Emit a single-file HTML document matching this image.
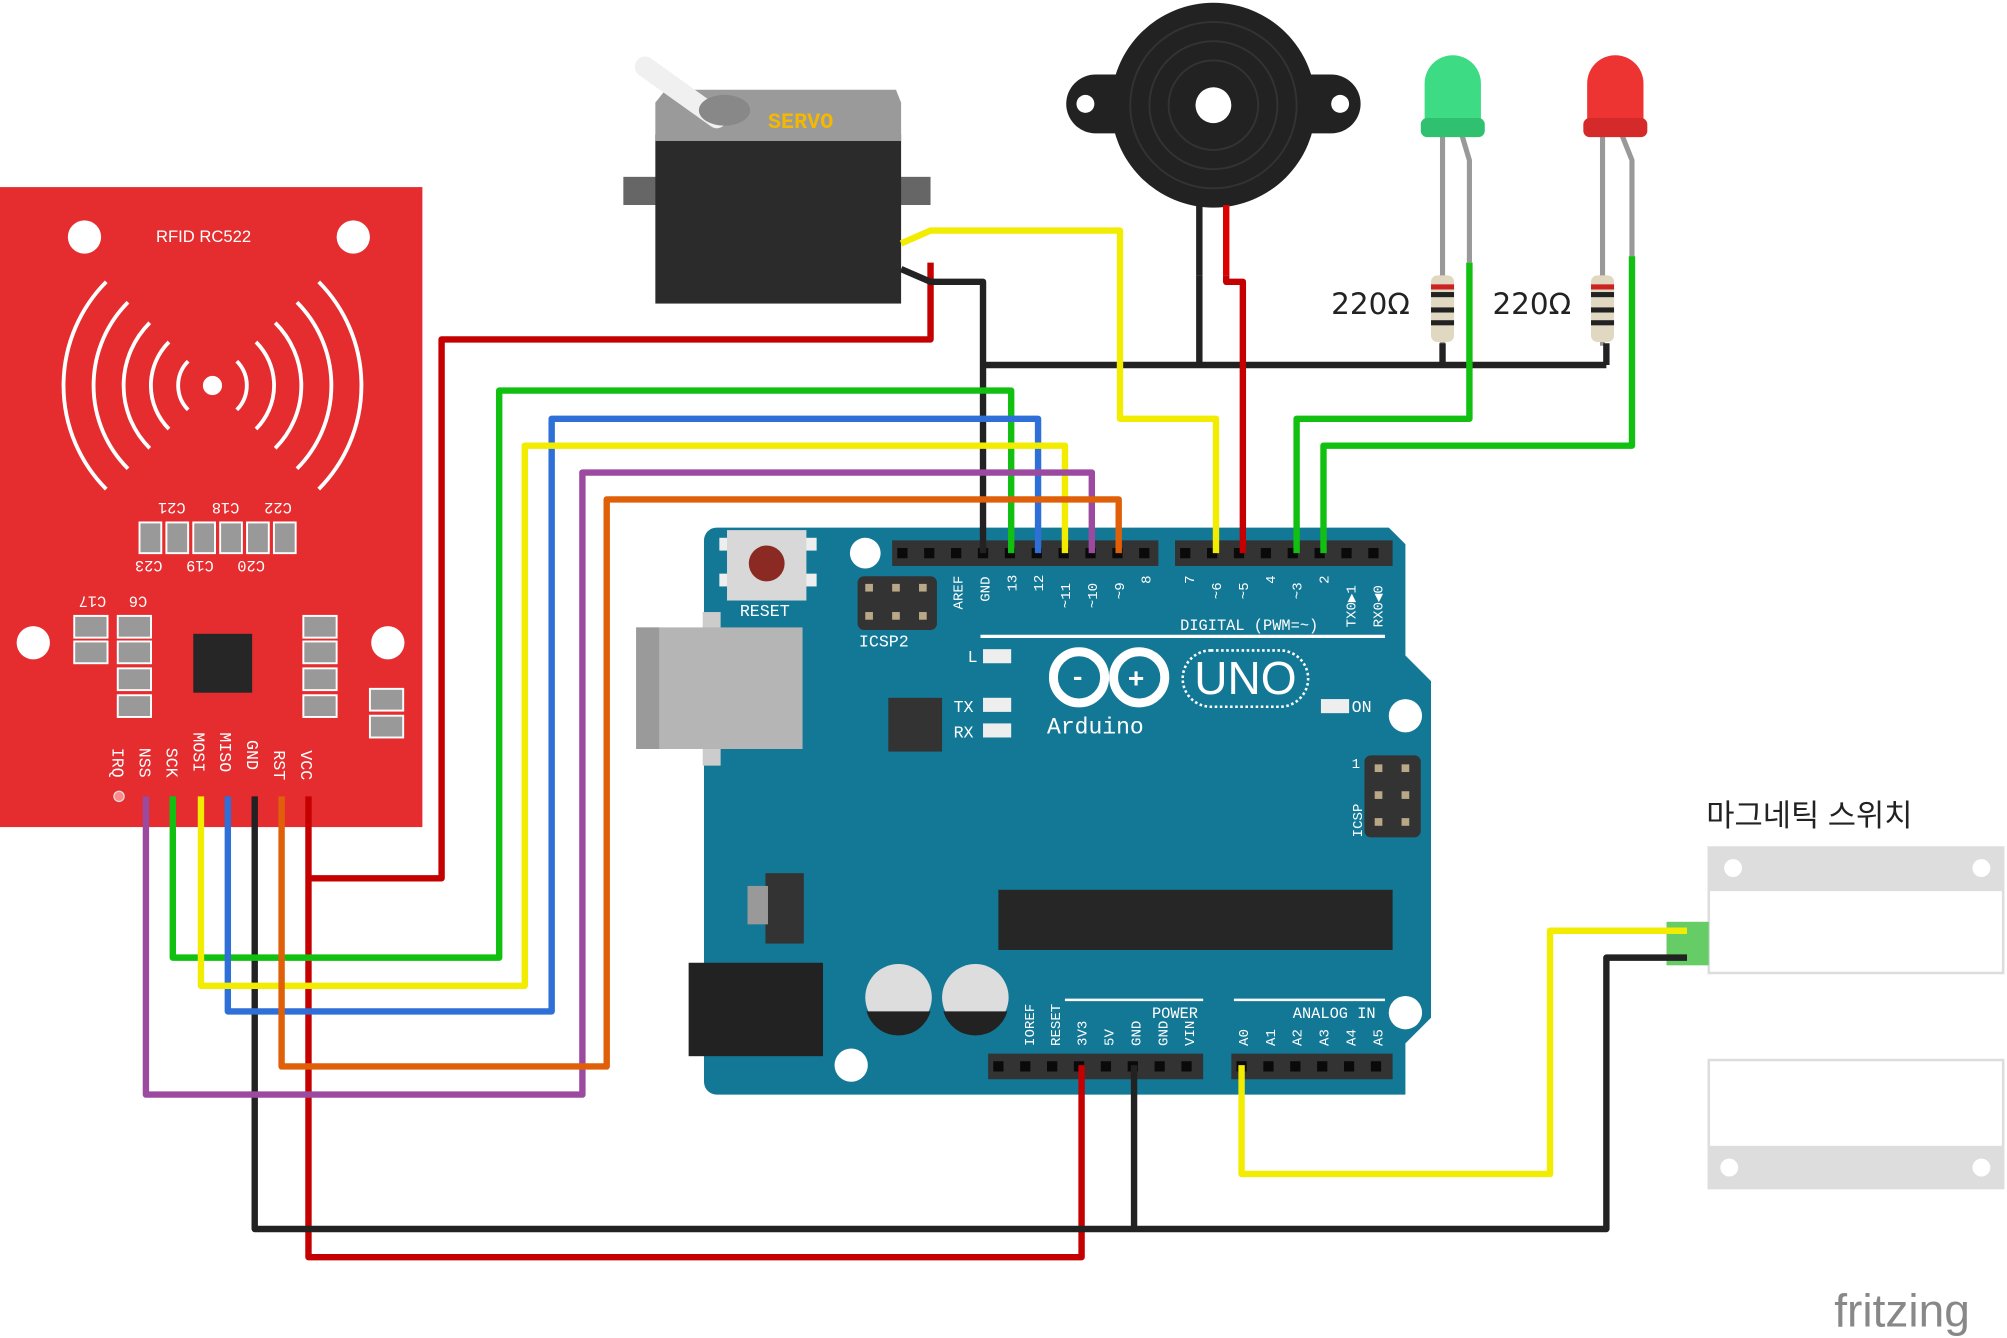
<!DOCTYPE html>
<html><head><meta charset="utf-8"><style>
html,body{margin:0;padding:0;background:#fff;}
svg{display:block}
text{font-family:"Liberation Mono",monospace;}
</style></head><body>
<svg width="2007" height="1338" viewBox="0 0 1568 1045" xmlns="http://www.w3.org/2000/svg">
<rect width="1568" height="1045" fill="#fff"/>
<!-- RFID -->
<rect x="0" y="146" width="330" height="500" fill="#e52d30"/>
<circle cx="66" cy="185" r="13" fill="#fff"/><circle cx="276" cy="185" r="13" fill="#fff"/>
<circle cx="26" cy="502" r="13" fill="#fff"/><circle cx="303" cy="502" r="13" fill="#fff"/>
<text x="159" y="189" font-size="13" fill="#fff" text-anchor="middle" style="font-family:'Liberation Sans'">RFID RC522</text>
<g fill="none" stroke="#fff" stroke-width="3">
<circle cx="166" cy="301" r="6" fill="#fff"/>
<path d="M147 282 A27 27 0 0 0 147 320 M185 282 A27 27 0 0 1 185 320"/>
<path d="M132 267 A48 48 0 0 0 132 335 M200 267 A48 48 0 0 1 200 335"/>
<path d="M117 252 A69 69 0 0 0 117 350 M215 252 A69 69 0 0 1 215 350"/>
<path d="M100 236 A92 92 0 0 0 100 366 M232 236 A92 92 0 0 1 232 366"/>
<path d="M83 220 A115 115 0 0 0 83 382 M249 220 A115 115 0 0 1 249 382"/>
</g>
<g fill="#999" stroke="#fff" stroke-width="1.5">
<rect x="109" y="408" width="17" height="24"/><rect x="130" y="408" width="17" height="24"/><rect x="151" y="408" width="17" height="24"/><rect x="172" y="408" width="17" height="24"/><rect x="193" y="408" width="17" height="24"/><rect x="214" y="408" width="17" height="24"/>
<rect x="58" y="481" width="26" height="17"/><rect x="58" y="501" width="26" height="17"/>
<rect x="92" y="481" width="26" height="17"/><rect x="92" y="501" width="26" height="17"/><rect x="92" y="522" width="26" height="17"/><rect x="92" y="543" width="26" height="17"/>
<rect x="237" y="481" width="26" height="17"/><rect x="237" y="501" width="26" height="17"/><rect x="237" y="522" width="26" height="17"/><rect x="237" y="543" width="26" height="17"/>
<rect x="289" y="538" width="26" height="17"/><rect x="289" y="559" width="26" height="17"/>
</g>
<rect x="151" y="495" width="46" height="46" fill="#262626"/>
<g fill="#fff" font-size="12" style="font-family:'Liberation Sans'">
<text x="125" y="403" transform="rotate(180 135 398)">C21</text>
<text x="167" y="403" transform="rotate(180 177 398)">C18</text>
<text x="208" y="403" transform="rotate(180 218 398)">C22</text>
<text x="107" y="446" transform="rotate(180 117 442)">C23</text>
<text x="147" y="446" transform="rotate(180 157 442)">C19</text>
<text x="187" y="446" transform="rotate(180 197 442)">C20</text>
<text x="63" y="474" transform="rotate(180 73 470)">C17</text>
<text x="95" y="474" transform="rotate(180 105 470)">C6</text>
</g>
<g fill="#fff" font-size="13" style="font-family:'Liberation Sans'">
<text transform="translate(88,584) rotate(90)">IRQ</text>
<text transform="translate(109,584) rotate(90)">NSS</text>
<text transform="translate(130,584) rotate(90)">SCK</text>
<text transform="translate(151,572) rotate(90)">MOSI</text>
<text transform="translate(172,572) rotate(90)">MISO</text>
<text transform="translate(193,578) rotate(90)">GND</text>
<text transform="translate(214,586) rotate(90)">RST</text>
<text transform="translate(235,586) rotate(90)">VCC</text>
</g>
<circle cx="93" cy="622" r="4" fill="#f88" stroke="#ddd"/>
<!-- Arduino -->
<path d="M560 412 H1085 L1098 425 V512 L1118 532 V795 L1098 815 V855 H560 A10 10 0 0 1 550 845 V422 A10 10 0 0 1 560 412Z" fill="#137896"/>
<circle cx="676" cy="432" r="12" fill="#fff"/><circle cx="1098" cy="559" r="13" fill="#fff"/><circle cx="1098" cy="791" r="13" fill="#fff"/><circle cx="665" cy="832" r="13" fill="#fff"/>
<rect x="549" y="478" width="14" height="120" fill="#ccc"/>
<rect x="497" y="490" width="130" height="95" fill="#b5b5b5"/><rect x="497" y="490" width="18" height="95" fill="#9a9a9a"/>
<rect x="562" y="420" width="76" height="10" fill="#eee"/><rect x="562" y="448" width="76" height="10" fill="#eee"/>
<rect x="568" y="414" width="62" height="55" fill="#d8d8d8"/><circle cx="599" cy="440" r="14" fill="#8b2a22"/>
<text x="578" y="481" fill="#fff" font-size="13">RESET</text>
<rect x="670" y="450" width="62" height="42" rx="5" fill="#333"/>
<g fill="#b8a888"><rect x="676" y="456" width="6" height="6"/><rect x="697" y="456" width="6" height="6"/><rect x="718" y="456" width="6" height="6"/><rect x="676" y="478" width="6" height="6"/><rect x="697" y="478" width="6" height="6"/><rect x="718" y="478" width="6" height="6"/></g>
<text x="671" y="505" fill="#fff" font-size="13">ICSP2</text>
<rect x="694" y="545" width="42" height="42" fill="#333"/>
<rect x="697" y="422" width="208" height="20" fill="#333"/><rect x="918" y="422" width="170" height="20" fill="#333"/>
<rect x="772" y="823" width="168" height="20" fill="#333"/><rect x="962" y="823" width="126" height="20" fill="#333"/>
<g stroke="#0a0a0a" stroke-width="8" stroke-dasharray="8 13">
<line x1="701" y1="432" x2="905" y2="432"/><line x1="922" y1="432" x2="1088" y2="432"/>
<line x1="776" y1="833" x2="940" y2="833"/><line x1="966" y1="833" x2="1088" y2="833"/>
</g>
<rect x="1066" y="590" width="44" height="64" rx="5" fill="#333"/>
<g fill="#b8a888"><rect x="1074" y="597" width="6" height="6"/><rect x="1095" y="597" width="6" height="6"/><rect x="1074" y="618" width="6" height="6"/><rect x="1095" y="618" width="6" height="6"/><rect x="1074" y="639" width="6" height="6"/><rect x="1095" y="639" width="6" height="6"/></g>
<rect x="780" y="695" width="308" height="47" fill="#262626"/>
<rect x="598" y="682" width="30" height="55" fill="#333"/><rect x="584" y="692" width="16" height="30" fill="#999"/>
<rect x="538" y="752" width="105" height="73" fill="#222"/>
<circle cx="702" cy="779" r="26" fill="#ddd"/><path d="M677 790 H727 A26 26 0 0 1 677 790Z" fill="#222"/>
<circle cx="762" cy="779" r="26" fill="#ddd"/><path d="M737 790 H787 A26 26 0 0 1 737 790Z" fill="#222"/>
<line x1="766" y1="497" x2="1082" y2="497" stroke="#fff" stroke-width="2.5"/>
<line x1="832" y1="781" x2="940" y2="781" stroke="#fff" stroke-width="2"/><line x1="964" y1="781" x2="1082" y2="781" stroke="#fff" stroke-width="2"/>
<g fill="#fff" font-size="12">
<text x="922" y="492">DIGITAL (PWM=~)</text>
<text x="900" y="795">POWER</text><text x="1010" y="795">ANALOG IN</text>
<text x="756" y="517" font-size="13">L</text><text x="745" y="556" font-size="13">TX</text><text x="745" y="576" font-size="13">RX</text>
<text x="1056" y="556" font-size="13">ON</text>
<text x="818" y="573" font-size="18">Arduino</text>
</g>
<rect x="768" y="507" width="22" height="11" fill="#eee"/><rect x="768" y="545" width="22" height="11" fill="#eee"/><rect x="768" y="565" width="22" height="11" fill="#eee"/><rect x="1032" y="546" width="22" height="11" fill="#eee"/>
<g fill="none" stroke="#fff" stroke-width="7"><circle cx="843" cy="529" r="20"/><circle cx="890" cy="529" r="20"/></g>
<text x="836" y="535" fill="#fff" font-size="20" font-weight="bold">-</text><text x="881" y="537" fill="#fff" font-size="22" font-weight="bold">+</text>
<rect x="924" y="508" width="98" height="44" rx="22" fill="none" stroke="#fff" stroke-width="2" stroke-dasharray="2 2"/>
<text x="973" y="542" fill="#fff" font-size="36" text-anchor="middle" style="font-family:'Liberation Sans'">UNO</text>
<g fill="#fff" font-size="11">
<text transform="translate(752,476) rotate(-90)">AREF</text><text transform="translate(773,470) rotate(-90)">GND</text>
<text transform="translate(794,462) rotate(-90)">13</text><text transform="translate(815,462) rotate(-90)">12</text>
<text transform="translate(836,475) rotate(-90)">~11</text><text transform="translate(857,475) rotate(-90)">~10</text>
<text transform="translate(878,468) rotate(-90)">~9</text><text transform="translate(899,456) rotate(-90)">8</text>
<text transform="translate(933,456) rotate(-90)">7</text><text transform="translate(954,468) rotate(-90)">~6</text>
<text transform="translate(975,468) rotate(-90)">~5</text><text transform="translate(996,456) rotate(-90)">4</text>
<text transform="translate(1017,468) rotate(-90)">~3</text><text transform="translate(1038,456) rotate(-90)">2</text>
<text transform="translate(1059,490) rotate(-90)">TX0▶1</text><text transform="translate(1080,490) rotate(-90)">RX0◀0</text>
<text transform="translate(808,817) rotate(-90)">IOREF</text><text transform="translate(828,817) rotate(-90)">RESET</text>
<text transform="translate(849,817) rotate(-90)">3V3</text><text transform="translate(870,817) rotate(-90)">5V</text>
<text transform="translate(891,817) rotate(-90)">GND</text><text transform="translate(912,817) rotate(-90)">GND</text>
<text transform="translate(933,817) rotate(-90)">VIN</text>
<text transform="translate(975,817) rotate(-90)">A0</text><text transform="translate(996,817) rotate(-90)">A1</text>
<text transform="translate(1017,817) rotate(-90)">A2</text><text transform="translate(1038,817) rotate(-90)">A3</text>
<text transform="translate(1059,817) rotate(-90)">A4</text><text transform="translate(1080,817) rotate(-90)">A5</text>
<text transform="translate(1064,654) rotate(-90)">ICSP</text><text x="1056" y="600">1</text>
</g>
<!-- Servo -->
<rect x="487" y="138" width="240" height="22" fill="#666"/>
<rect x="512" y="105" width="192" height="132" fill="#2b2b2b"/>
<path d="M512 80 L520 70 H700 L704 80 V110 H512Z" fill="#9a9a9a"/>
<path d="M504 52 L560 92" stroke="#f0f0f0" stroke-width="16" stroke-linecap="round"/>
<ellipse cx="566" cy="86" rx="20" ry="12" fill="#888"/>
<text x="600" y="100" fill="#f5b800" font-size="17" font-weight="bold">SERVO</text>
<!-- Buzzer -->
<rect x="833" y="58" width="230" height="46" rx="23" fill="#222"/>
<circle cx="848" cy="81" r="7" fill="#fff"/><circle cx="1047" cy="81" r="7" fill="#fff"/>
<circle cx="948" cy="82" r="80" fill="#222"/>
<g fill="none" stroke="#333" stroke-width="1.5"><circle cx="948" cy="82" r="65"/><circle cx="948" cy="82" r="50"/><circle cx="948" cy="82" r="35"/></g>
<circle cx="948" cy="82" r="14" fill="#fff"/>
<line x1="937" y1="160" x2="937" y2="215" stroke="#222" stroke-width="5"/><line x1="958" y1="160" x2="958" y2="215" stroke="#d00" stroke-width="5"/>
<!-- LEDs -->
<g stroke="#999" stroke-width="4" fill="none">
<path d="M1127 105 V270"/><path d="M1142 105 L1148 125 V205"/>
<path d="M1252 105 V270"/><path d="M1267 105 L1275 125 V205"/>
</g>
<path d="M1113 95 V65 A22 22 0 0 1 1157 65 V95 Z" fill="#3ddc84"/><rect x="1110" y="92" width="50" height="15" rx="5" fill="#2fc070"/>
<path d="M1240 95 V65 A22 22 0 0 1 1284 65 V95 Z" fill="#ee3333"/><rect x="1237" y="92" width="50" height="15" rx="5" fill="#d42a2a"/>
<g fill="#e0d8c0"><rect x="1118" y="215" width="18" height="52" rx="5"/><rect x="1243" y="215" width="18" height="52" rx="5"/></g>
<g fill="#222"><rect x="1118" y="228" width="18" height="4"/><rect x="1118" y="240" width="18" height="4"/><rect x="1118" y="250" width="18" height="4"/><rect x="1243" y="228" width="18" height="4"/><rect x="1243" y="240" width="18" height="4"/><rect x="1243" y="250" width="18" height="4"/></g>
<rect x="1118" y="222" width="18" height="4" fill="#c22"/><rect x="1243" y="222" width="18" height="4" fill="#c22"/>
<text x="1040" y="245" font-size="23" fill="#222" style="font-family:'DejaVu Sans'">220Ω</text>
<text x="1166" y="245" font-size="23" fill="#222" style="font-family:'DejaVu Sans'">220Ω</text>
<!-- Magnetic switch -->
<text x="1333" y="645" font-size="24" fill="#222" style="font-family:'Liberation Sans','Noto Sans CJK KR',sans-serif">마그네틱 스위치</text>
<rect x="1335" y="662" width="230" height="98" fill="#fff" stroke="#ddd" stroke-width="2"/><rect x="1335" y="662" width="230" height="34" fill="#ddd"/>
<circle cx="1354" cy="678" r="7" fill="#fff"/><circle cx="1548" cy="678" r="7" fill="#fff"/>
<rect x="1335" y="828" width="230" height="100" fill="#fff" stroke="#ddd" stroke-width="2"/><rect x="1335" y="895" width="230" height="33" fill="#ddd"/>
<circle cx="1351" cy="912" r="7" fill="#fff"/><circle cx="1548" cy="912" r="7" fill="#fff"/>
<rect x="1302" y="720" width="33" height="34" fill="#6c6"/>
<!-- Wires -->
<g fill="none" stroke-width="5" stroke-linejoin="round">
<polyline stroke="#c40000" points="727,205 727,265 345,265 345,686 240,686"/>
<polyline stroke="#c40000" points="241,622 241,982 845,982 845,832"/>
<polyline stroke="#222" points="199,622 199,960 1255,960 1255,748 1318,748"/>
<polyline stroke="#222" points="886,832 886,960"/>
<polyline stroke="#222" points="704,210 727,220 768,220 768,432"/>
<polyline stroke="#222" points="937,215 937,285"/>
<polyline stroke="#222" points="770,285 1255,285"/>
<polyline stroke="#222" points="1127,268 1127,285"/>
<polyline stroke="#222" points="1255,268 1255,285"/>
<polyline stroke="#12c012" points="135,622 135,748 390,748 390,305 790,305 790,432"/>
<polyline stroke="#2e6fd8" points="178,622 178,790 431,790 431,327 811,327 811,432"/>
<polyline stroke="#f2ec00" points="157,622 157,770 410,770 410,348 832,348 832,432"/>
<polyline stroke="#9b4aa0" points="114,622 114,855 455,855 455,369 853,369 853,432"/>
<polyline stroke="#e0600a" points="220,622 220,833 474,833 474,390 874,390 874,432"/>
<polyline stroke="#f2ec00" points="704,190 727,180 875,180 875,327 950,327 950,432"/>
<polyline stroke="#c40000" points="958,215 958,220 971,220 971,432"/>
<polyline stroke="#12c012" points="1148,205 1148,327 1013,327 1013,432"/>
<polyline stroke="#12c012" points="1275,200 1275,348 1034,348 1034,432"/>
<polyline stroke="#f2ec00" points="970,832 970,917 1211,917 1211,727 1318,727"/>
</g>
<text x="1433" y="1036" font-size="36" fill="#888" style="font-family:'Liberation Sans'">fritzing</text>
</svg>
</body></html>
